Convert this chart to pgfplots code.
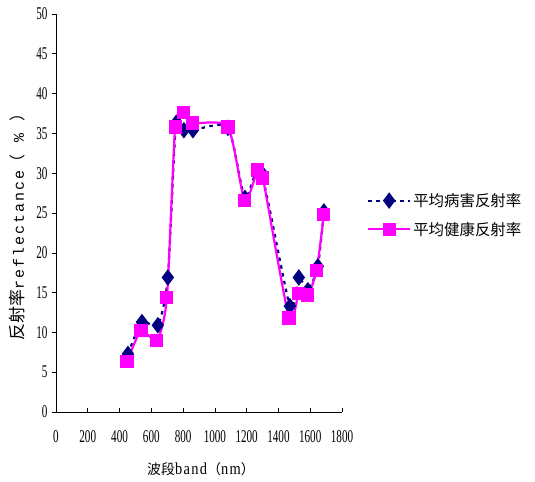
\documentclass[border=0pt]{standalone}
\usepackage{pgfplots}
\pgfplotsset{compat=1.18}
\usepackage{fontspec}
\setmainfont{Liberation Serif}
\setmonofont{Liberation Mono}
\newfontfamily\cjk{Noto Sans CJK SC}
\newfontfamily\numfont[FakeStretch=0.62]{Liberation Serif}
\newfontfamily\latfont[FakeStretch=0.85, LetterSpace=8]{Liberation Serif}
\newfontfamily\monofont[LetterSpace=14]{Liberation Mono}
\definecolor{navy}{RGB}{0,0,128}
\definecolor{mag}{RGB}{255,0,255}
\begin{document}
\begin{tikzpicture}
\useasboundingbox (-56bp,-70bp) rectangle (479bp,412bp);
\begin{axis}[
  at={(0,0)}, anchor=south west,
  scale only axis, width=286bp, height=398bp,
  xmin=0, xmax=1800, ymin=0, ymax=50,
  xtick={0,200,...,1800}, ytick={0,5,...,50},
  axis x line*=bottom, axis y line*=left,
  axis line style={-, line width=0.8pt},
  x tick style={black, line width=0.6pt}, y tick style={black, line width=0.6pt},
  xtick align=inside, ytick align=outside,
  major tick length=4bp,
  /pgf/number format/assume math mode=true,
  /pgf/number format/1000 sep={},
  tick label style={font=\fontsize{18}{20}\numfont},
  xticklabel style={yshift=-15bp},
  yticklabel style={xshift=-1bp},
  xlabel={{\fontsize{14}{16}\cjk 波段}{\fontsize{17}{19}\latfont band}{\fontsize{14}{16}\cjk （}{\fontsize{17}{19}\latfont nm}{\fontsize{14}{16}\cjk ）}},
  ylabel={{\fontsize{17}{19}\cjk 反射率}{\fontsize{15}{17}\monofont reflectance}{\fontsize{16}{18}\cjk （}\hspace*{12bp}{\fontsize{15}{17}\monofont\%}\hspace*{12bp}{\fontsize{16}{18}\cjk ）}},
  xlabel style={yshift=-13bp, xshift=2bp},
  ylabel style={yshift=4bp, xshift=-10bp},
  legend style={draw=none, fill=none, at={(1.087,0.555)}, anchor=north west,
    font=\fontsize{15.5}{17}\selectfont\cjk, row sep=10bp, inner sep=0pt,
    nodes={inner sep=2bp}},
  legend cell align=left,
  legend image code/.code={\draw[mark repeat=2,mark phase=2,#1] plot coordinates {(0bp,0bp) (21bp,0bp) (42bp,0bp)};},
]
\addplot[navy, line width=2.2pt, dash pattern=on 3.5pt off 4.5pt, smooth, tension=0.4,
  mark=diamond*, mark size=6.5bp, mark options={solid, fill=navy}]
coordinates {
(453,7.3) (541,11.3) (641,10.9) (704,16.9) (755,36.3) (805,35.4) (862,35.4)
(1082,35.7) (1189,26.9) (1289,30.2) (1472,13.3) (1528,16.9) (1585,15.3)
(1648,18.3) (1686,25.2)
};
\addlegendentry{平均病害反射率}
\addplot[mag, line width=2.2pt, smooth, tension=0.4,
  mark=square*, mark size=5.5bp, mark options={solid, fill=mag}]
coordinates {
(447,6.3) (535,10.2) (635,9.0) (698,14.4) (750,35.8) (800,37.6) (857,36.3)
(1082,35.8) (1187,26.6) (1270,30.4) (1302,29.4) (1467,11.8) (1528,14.9)
(1585,14.7) (1640,17.8) (1686,24.8)
};
\addlegendentry{平均健康反射率}
\end{axis}
\end{tikzpicture}
\end{document}
